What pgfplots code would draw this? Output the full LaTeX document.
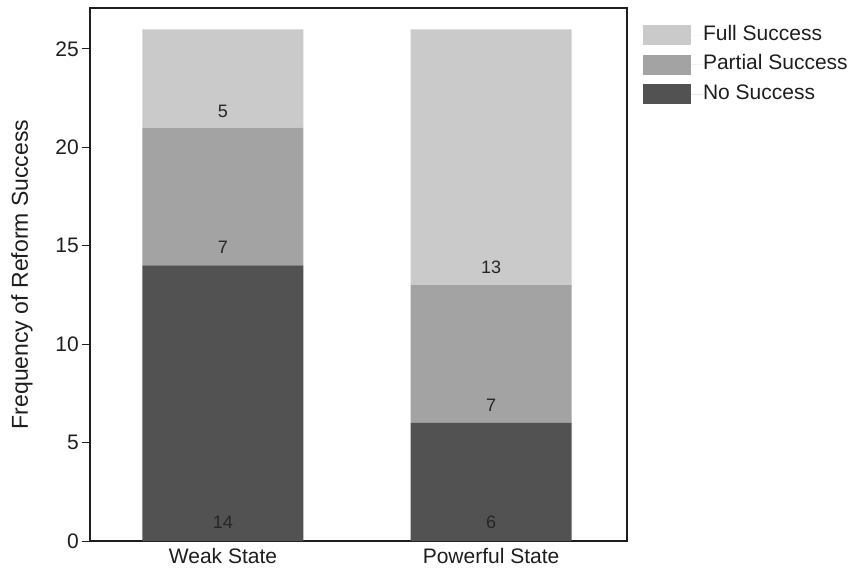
\documentclass[border=0pt]{standalone}
\usepackage{pgfplots}
\pgfplotsset{compat=1.18}
\usepackage{fontspec}
\setmainfont{Liberation Sans}
\definecolor{fullc}{RGB}{202,202,202}
\definecolor{partc}{RGB}{163,163,163}
\definecolor{noc}{RGB}{82,82,82}
\definecolor{axc}{RGB}{30,30,30}
\begin{document}
\begin{tikzpicture}
\path[use as bounding box] (-90pt,-27pt) rectangle (762pt,541pt);
\begin{axis}[
  at={(0pt,0pt)}, anchor=south west,
  scale only axis, width=537pt, height=533pt,
  ybar stacked, bar width=161pt,
  xmin=-0.496, xmax=1.507, ymin=0, ymax=27.08,
  xtick={0,1}, xticklabels={Weak State, Powerful State},
  xtick style={draw=none},
  ytick={0,5,10,15,20,25}, ytick pos=left,
  ytick style={draw=axc, line width=1pt}, tick align=outside, major tick length=8pt,
  axis line style={draw=axc, line width=1.3pt},
  /pgf/number format/assume math mode=true,
  tick label style={font=\fontsize{21}{24}\selectfont, text=axc},
  xticklabel style={inner sep=0pt, anchor=base, yshift=-14pt},
  yticklabel style={inner sep=3pt},
  ylabel={Frequency of Reform Success},
  ylabel style={font=\fontsize{23}{26}\selectfont, text=axc, at={(axis description cs:-0.1266,0.5)}, anchor=center},
  reverse legend,
  legend style={at={(axis description cs:1.0295,0.968)}, anchor=north west, draw=none, fill=none,
    inner sep=0pt, font=\fontsize{21}{24}\selectfont, text=axc, row sep=9.5pt,
    nodes={inner sep=0pt, text height=15pt, text depth=5pt}},
  legend cell align=left,
  legend image code/.code={\fill[#1] (0pt,-10pt) rectangle (48pt,10pt); \path (0pt,0pt) -- (60pt,0pt);},
]
\addplot[fill=noc, draw=none] coordinates {(0,14) (1,6)};
\addplot[fill=partc, draw=none] coordinates {(0,7) (1,7)};
\addplot[fill=fullc, draw=none] coordinates {(0,5) (1,13)};
\legend{No Success, Partial Success, Full Success}
\end{axis}
\begin{axis}[
  at={(0pt,0pt)}, anchor=south west,
  scale only axis, width=537pt, height=533pt,
  xmin=-0.496, xmax=1.507, ymin=0, ymax=27.08,
  hide axis,
  nodes near coords, point meta=explicit symbolic,
  nodes near coords style={anchor=center, font=\fontsize{18}{20}\selectfont, text=black!85},
]
\addplot[draw=none, mark=none] table[meta=lab] {
x y lab
0 0.97 14
0 14.9 7
0 21.85 5
1 0.97 6
1 6.9 7
1 13.9 13
};
\end{axis}
\end{tikzpicture}
\end{document}
